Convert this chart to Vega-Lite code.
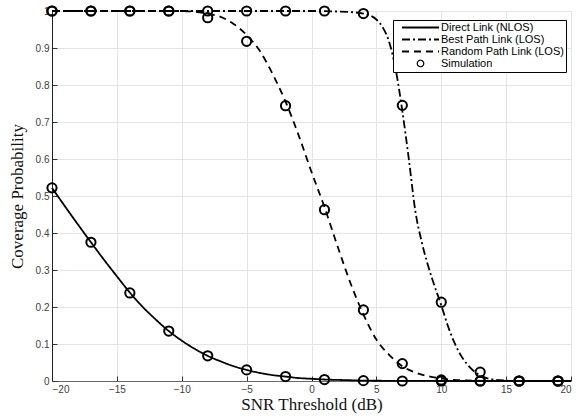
{
  "$schema": "https://vega.github.io/schema/vega-lite/v6.json",
  "width": 519,
  "height": 370,
  "autosize": {"type": "none"},
  "padding": {"left": 52, "top": 11, "right": 5, "bottom": 38},
  "background": "white",
  "config": {
    "view": {"stroke": null},
    "axis": {
      "labelFont": "Liberation Sans",
      "labelFontSize": 10,
      "labelColor": "#404040",
      "titleFont": "Liberation Serif",
      "titleFontSize": 17,
      "titleFontWeight": "normal",
      "titleColor": "#111111",
      "gridColor": "#e4e4e4",
      "gridWidth": 1,
      "tickColor": "#333333",
      "tickSize": -5,
      "labelPadding": 8
    }
  },
  "datasets": {
    "curves": [
      {"x": -20, "p": 0.522, "series": "Direct Link (NLOS)"},
      {"x": -19, "p": 0.472, "series": "Direct Link (NLOS)"},
      {"x": -18, "p": 0.423, "series": "Direct Link (NLOS)"},
      {"x": -17, "p": 0.375, "series": "Direct Link (NLOS)"},
      {"x": -16, "p": 0.328, "series": "Direct Link (NLOS)"},
      {"x": -15, "p": 0.283, "series": "Direct Link (NLOS)"},
      {"x": -14, "p": 0.239, "series": "Direct Link (NLOS)"},
      {"x": -13, "p": 0.2, "series": "Direct Link (NLOS)"},
      {"x": -12, "p": 0.166, "series": "Direct Link (NLOS)"},
      {"x": -11, "p": 0.135, "series": "Direct Link (NLOS)"},
      {"x": -10, "p": 0.109, "series": "Direct Link (NLOS)"},
      {"x": -9, "p": 0.087, "series": "Direct Link (NLOS)"},
      {"x": -8, "p": 0.068, "series": "Direct Link (NLOS)"},
      {"x": -7, "p": 0.053, "series": "Direct Link (NLOS)"},
      {"x": -6, "p": 0.04, "series": "Direct Link (NLOS)"},
      {"x": -5, "p": 0.03, "series": "Direct Link (NLOS)"},
      {"x": -4, "p": 0.022, "series": "Direct Link (NLOS)"},
      {"x": -3, "p": 0.016, "series": "Direct Link (NLOS)"},
      {"x": -2, "p": 0.012, "series": "Direct Link (NLOS)"},
      {"x": -1, "p": 0.008, "series": "Direct Link (NLOS)"},
      {"x": 0, "p": 0.006, "series": "Direct Link (NLOS)"},
      {"x": 1, "p": 0.004, "series": "Direct Link (NLOS)"},
      {"x": 2, "p": 0.003, "series": "Direct Link (NLOS)"},
      {"x": 3, "p": 0.002, "series": "Direct Link (NLOS)"},
      {"x": 4, "p": 0.001, "series": "Direct Link (NLOS)"},
      {"x": 6, "p": 0.0005, "series": "Direct Link (NLOS)"},
      {"x": 9, "p": 0.0001, "series": "Direct Link (NLOS)"},
      {"x": 12, "p": 0, "series": "Direct Link (NLOS)"},
      {"x": 20, "p": 0, "series": "Direct Link (NLOS)"},
      {"x": -20, "p": 1, "series": "Best Path Link (LOS)"},
      {"x": 0, "p": 1, "series": "Best Path Link (LOS)"},
      {"x": 3, "p": 0.997, "series": "Best Path Link (LOS)"},
      {"x": 4, "p": 0.993, "series": "Best Path Link (LOS)"},
      {"x": 4.5, "p": 0.988, "series": "Best Path Link (LOS)"},
      {"x": 5, "p": 0.977, "series": "Best Path Link (LOS)"},
      {"x": 5.5, "p": 0.955, "series": "Best Path Link (LOS)"},
      {"x": 6, "p": 0.915, "series": "Best Path Link (LOS)"},
      {"x": 6.5, "p": 0.84, "series": "Best Path Link (LOS)"},
      {"x": 7, "p": 0.73, "series": "Best Path Link (LOS)"},
      {"x": 7.5, "p": 0.6, "series": "Best Path Link (LOS)"},
      {"x": 8, "p": 0.46, "series": "Best Path Link (LOS)"},
      {"x": 8.5, "p": 0.375, "series": "Best Path Link (LOS)"},
      {"x": 9, "p": 0.31, "series": "Best Path Link (LOS)"},
      {"x": 9.5, "p": 0.255, "series": "Best Path Link (LOS)"},
      {"x": 10, "p": 0.205, "series": "Best Path Link (LOS)"},
      {"x": 10.5, "p": 0.15, "series": "Best Path Link (LOS)"},
      {"x": 11, "p": 0.105, "series": "Best Path Link (LOS)"},
      {"x": 11.5, "p": 0.07, "series": "Best Path Link (LOS)"},
      {"x": 12, "p": 0.045, "series": "Best Path Link (LOS)"},
      {"x": 12.5, "p": 0.027, "series": "Best Path Link (LOS)"},
      {"x": 13, "p": 0.015, "series": "Best Path Link (LOS)"},
      {"x": 13.5, "p": 0.008, "series": "Best Path Link (LOS)"},
      {"x": 14, "p": 0.004, "series": "Best Path Link (LOS)"},
      {"x": 15, "p": 0.001, "series": "Best Path Link (LOS)"},
      {"x": 16, "p": 0, "series": "Best Path Link (LOS)"},
      {"x": 20, "p": 0, "series": "Best Path Link (LOS)"},
      {"x": -20, "p": 1, "series": "Random Path Link (LOS)"},
      {"x": -10, "p": 1, "series": "Random Path Link (LOS)"},
      {"x": -9, "p": 0.998, "series": "Random Path Link (LOS)"},
      {"x": -8, "p": 0.993, "series": "Random Path Link (LOS)"},
      {"x": -7, "p": 0.984, "series": "Random Path Link (LOS)"},
      {"x": -6, "p": 0.965, "series": "Random Path Link (LOS)"},
      {"x": -5, "p": 0.935, "series": "Random Path Link (LOS)"},
      {"x": -4, "p": 0.893, "series": "Random Path Link (LOS)"},
      {"x": -3, "p": 0.83, "series": "Random Path Link (LOS)"},
      {"x": -2, "p": 0.755, "series": "Random Path Link (LOS)"},
      {"x": -1, "p": 0.665, "series": "Random Path Link (LOS)"},
      {"x": 0, "p": 0.565, "series": "Random Path Link (LOS)"},
      {"x": 1, "p": 0.47, "series": "Random Path Link (LOS)"},
      {"x": 2, "p": 0.365, "series": "Random Path Link (LOS)"},
      {"x": 3, "p": 0.265, "series": "Random Path Link (LOS)"},
      {"x": 4, "p": 0.18, "series": "Random Path Link (LOS)"},
      {"x": 5, "p": 0.112, "series": "Random Path Link (LOS)"},
      {"x": 6, "p": 0.07, "series": "Random Path Link (LOS)"},
      {"x": 7, "p": 0.04, "series": "Random Path Link (LOS)"},
      {"x": 8, "p": 0.023, "series": "Random Path Link (LOS)"},
      {"x": 9, "p": 0.013, "series": "Random Path Link (LOS)"},
      {"x": 10, "p": 0.007, "series": "Random Path Link (LOS)"},
      {"x": 11, "p": 0.003, "series": "Random Path Link (LOS)"},
      {"x": 12, "p": 0.0015, "series": "Random Path Link (LOS)"},
      {"x": 14, "p": 0, "series": "Random Path Link (LOS)"},
      {"x": 20, "p": 0, "series": "Random Path Link (LOS)"}
    ],
    "sim": [
      {"x": -20, "p": 0.522}, {"x": -17, "p": 0.375}, {"x": -14, "p": 0.238}, {"x": -11, "p": 0.135},
      {"x": -8, "p": 0.068}, {"x": -5, "p": 0.03}, {"x": -2, "p": 0.012}, {"x": 1, "p": 0.004},
      {"x": 4, "p": 0.001}, {"x": 7, "p": 0}, {"x": 10, "p": 0}, {"x": 13, "p": 0}, {"x": 16, "p": 0}, {"x": 19, "p": 0},
      {"x": -20, "p": 1}, {"x": -17, "p": 1}, {"x": -14, "p": 1}, {"x": -11, "p": 1},
      {"x": -8, "p": 1}, {"x": -5, "p": 1}, {"x": -2, "p": 1}, {"x": 1, "p": 1},
      {"x": 4, "p": 0.993}, {"x": 7, "p": 0.745}, {"x": 10, "p": 0.213}, {"x": 13, "p": 0.024}, {"x": 16, "p": 0}, {"x": 19, "p": 0},
      {"x": -20, "p": 1}, {"x": -17, "p": 1}, {"x": -14, "p": 1}, {"x": -11, "p": 1},
      {"x": -8, "p": 0.982}, {"x": -5, "p": 0.918}, {"x": -2, "p": 0.744}, {"x": 1, "p": 0.463},
      {"x": 4, "p": 0.192}, {"x": 7, "p": 0.047}, {"x": 10, "p": 0.003}, {"x": 13, "p": 0}, {"x": 16, "p": 0}, {"x": 19, "p": 0}
    ]
  },
  "layer": [
    {
      "data": {"name": "curves"},
      "mark": {"type": "line", "color": "black", "strokeWidth": 1.8, "interpolate": "monotone"},
      "encoding": {
        "x": {
          "field": "x", "type": "quantitative",
          "scale": {"domain": [-20, 20], "nice": false},
          "axis": {"values": [-20, -15, -10, -5, 0, 5, 10, 15, 20], "tickCount": 9, "title": "SNR Threshold (dB)", "domainColor": "#6a6a6a", "titlePadding": 2}
        },
        "y": {
          "field": "p", "type": "quantitative",
          "scale": {"domain": [0, 1], "nice": false},
          "axis": {"values": [0, 0.1, 0.2, 0.3, 0.4, 0.5, 0.6, 0.7, 0.8, 0.9, 1], "tickCount": 11, "format": ".1~f", "title": "Coverage Probability", "domainColor": "#222222", "titlePadding": 9}
        },
        "detail": {"field": "series"},
        "strokeDash": {
          "field": "series", "type": "nominal",
          "scale": {
            "domain": ["Direct Link (NLOS)", "Best Path Link (LOS)", "Random Path Link (LOS)", "Simulation"],
            "range": [[1, 0], [8, 3, 2, 3], [7, 5], [1, 0]]
          },
          "legend": {
            "orient": "none",
            "legendX": 341,
            "legendY": 9,
            "title": null,
            "strokeColor": "black",
            "fillColor": "white",
            "padding": 2,
            "symbolSize": 100,
            "symbolStrokeWidth": 2,
            "symbolStrokeColor": "black",
            "symbolFillColor": "transparent",
            "labelFont": "Liberation Sans",
            "labelFontSize": 11,
            "labelColor": "black",
            "labelOffset": 15,
            "rowPadding": 0,
            "symbolOffset": 20,
            "encode": {
              "symbols": {
                "update": {
                  "shape": {"signal": "datum.value === 'Simulation' ? 'M-0.65,0A0.65,0.65 0 1,1 0.65,0A0.65,0.65 0 1,1 -0.65,0' : 'M-3.7,0L3.7,0'"},
                  "strokeWidth": {"signal": "datum.value === 'Simulation' ? 1.2 : 2"}
                }
              }
            }
          }
        }
      }
    },
    {
      "data": {"name": "sim"},
      "mark": {"type": "point", "shape": "circle", "filled": false, "color": "black", "size": 85, "strokeWidth": 2, "opacity": 1},
      "encoding": {
        "x": {"field": "x", "type": "quantitative"},
        "y": {"field": "p", "type": "quantitative"}
      }
    }
  ]
}
